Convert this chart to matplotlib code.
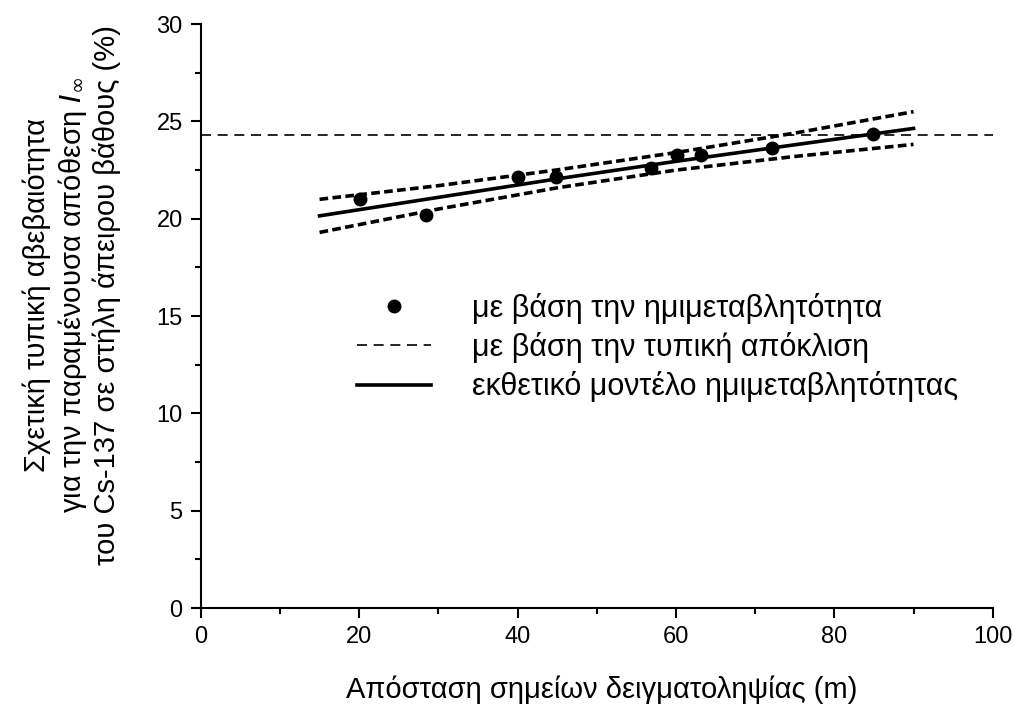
import matplotlib
matplotlib.use("Agg")
import matplotlib.pyplot as plt
from matplotlib.ticker import MultipleLocator

plt.rcParams['font.family'] = ['Liberation Sans', 'DejaVu Sans']

# data
pts_x = [20.1, 28.4, 40.1, 44.8, 56.9, 60.1, 63.2, 72.1, 84.9]
pts_y = [21.0, 20.2, 22.15, 22.15, 22.6, 23.25, 23.27, 23.65, 24.33]

model_x = [15, 30, 45, 60, 75, 90]
model_y = [20.15, 21.1, 22.05, 22.95, 23.8, 24.64]
upper_y = [21.0, 21.7, 22.51, 23.4, 24.4, 25.5]
lower_y = [19.3, 20.5, 21.59, 22.5, 23.2, 23.82]

std_level = 24.32

xlabel = "Απόσταση σημείων δειγματοληψίας (m)"
ylabel = ("Σχετική τυπική αβεβαιότητα\n"
          "για την παραμένουσα απόθεση $I_{\\infty}$\n"
          "του Cs-137 σε στήλη άπειρου βάθους (%)")
leg_labels = ["με βάση την ημιμεταβλητότητα",
              "με βάση την τυπική απόκλιση",
              "εκθετικό μοντέλο ημιμεταβλητότητας"]

fig = plt.figure(figsize=(10.14, 7.08), dpi=100)
ax = fig.add_axes([0.198, 0.141, 0.781, 0.825])

h1, = ax.plot(pts_x, pts_y, 'o', color='black', ms=9, zorder=5, label=leg_labels[0])
h2 = ax.axhline(std_level, color='black', lw=1.2, ls=(0, (6, 4)), label=leg_labels[1])
h3, = ax.plot(model_x, model_y, '-', color='black', lw=2.6, label=leg_labels[2])
ax.plot(model_x, upper_y, color='black', lw=2.6, ls=(0, (2.4, 1.2)))
ax.plot(model_x, lower_y, color='black', lw=2.6, ls=(0, (2.4, 1.2)))

ax.set_xlim(0, 100)
ax.set_ylim(0, 30)
ax.xaxis.set_major_locator(MultipleLocator(20))
ax.xaxis.set_minor_locator(MultipleLocator(10))
ax.yaxis.set_major_locator(MultipleLocator(5))
ax.yaxis.set_minor_locator(MultipleLocator(2.5))
for s in ['top', 'right']:
    ax.spines[s].set_visible(False)
for s in ['left', 'bottom']:
    ax.spines[s].set_linewidth(1.5)
ax.tick_params(which='major', direction='out', length=7, width=1.5, labelsize=17, pad=6)
ax.tick_params(which='minor', direction='out', length=4.5, width=1.5)

fig.text(0.5935, 1 - 690 / 708, xlabel, fontsize=21, ha='center', va='center')
fig.text(72 / 1014, 1 - 295 / 708, ylabel, fontsize=21, ha='center', va='center',
         rotation=90, linespacing=1.18, multialignment='center')

leg = ax.legend(handles=[h1, h2, h3], labels=leg_labels, loc='center',
                bbox_to_anchor=(0.577, 0.446), frameon=False, fontsize=22,
                handlelength=2.4, handletextpad=1.35, labelspacing=0.27,
                numpoints=1)

fig.savefig("out.png", dpi=100)
